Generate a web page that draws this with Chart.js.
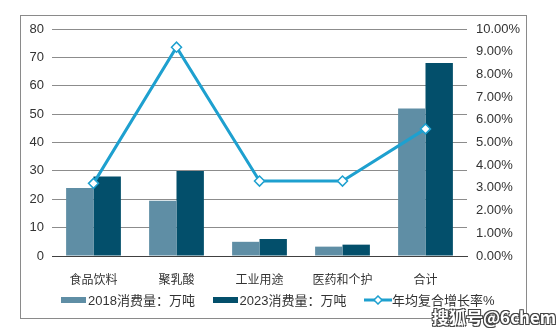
<!DOCTYPE html>
<html>
<head>
<meta charset="utf-8">
<script src="https://cdn.jsdelivr.net/npm/chart.js@4"></script>
<style>
    body { margin: 0; background: #fff; }
    #wrap { position: relative; width: 558px; height: 330px; }
    #frame { position: absolute; left: 20px; top: 15px; width: 505px; height: 302px; border: 1px solid #8a8a8a; }
    #legend { position: absolute; top: 290px; left: 61px; font: 13px "Liberation Sans", "Noto Sans CJK SC", sans-serif; color: #333; white-space: nowrap; }
    #legend span { display: inline-block; vertical-align: middle; }
    .sw { width: 25px; height: 6px; margin-right: 2px; }
    .item { margin-right: 14px; }
    #mark { position: absolute; left: 432px; top: 304px; font: bold 17px "Noto Sans CJK SC", sans-serif; color: #fff;
        text-shadow: -1px -1px 0 #444, 1px -1px 0 #444, -1px 1px 0 #444, 1px 1px 0 #444; }
</style>
</head>
<body>
<div id="wrap">
    <div id="frame"></div>
    <canvas id="chart" width="558" height="330"></canvas>
    <div id="legend">
        <span class="item"><span class="sw" style="background:#5f8ea5"></span><span>2018消费量：万吨</span></span>
        <span class="item"><span class="sw" style="background:#034f6b"></span><span>2023消费量：万吨</span></span>
        <span class="item"><svg width="28" height="10" style="vertical-align:middle"><line x1="0" y1="5" x2="28" y2="5" stroke="#1ea0cf" stroke-width="3"/><polygon points="14,1 18,5 14,9 10,5" fill="#fff" stroke="#1ea0cf" stroke-width="1.5"/></svg><span>年均复合增长率%</span></span>
    </div>
    <div id="mark">搜狐号@6chem</div>
</div>
<script>
const categories = ['食品饮料', '聚乳酸', '工业用途', '医药和个护', '合计'];
const use2018 = [24, 19.5, 5, 3.3, 52];
const use2023 = [28, 30, 6, 4, 68];
const cagr = [3.2, 9.2, 3.3, 3.3, 5.6];

const font = {family: '"Liberation Sans", "Noto Sans CJK SC", sans-serif', size: 12};

new Chart(document.querySelector('#chart'), {
    data: {
        labels: categories,
        datasets: [
            {
                type: 'line',
                label: '年均复合增长率%',
                data: cagr,
                yAxisID: 'y2',
                borderColor: '#1ea0cf',
                borderWidth: 3,
                pointStyle: 'rectRot',
                pointRadius: 5,
                pointBackgroundColor: '#fff',
                pointBorderColor: '#1ea0cf',
                pointBorderWidth: 1.5,
                order: 0
            },
            {
                type: 'bar',
                label: '2018消费量：万吨',
                data: use2018,
                yAxisID: 'y',
                backgroundColor: '#5f8ea5',
                order: 1
            },
            {
                type: 'bar',
                label: '2023消费量：万吨',
                data: use2023,
                yAxisID: 'y',
                backgroundColor: '#034f6b',
                order: 1
            }
        ]
    },
    options: {
        responsive: false,
        animation: false,
        datasets: {bar: {categoryPercentage: 0.66, barPercentage: 1}},
        layout: {padding: {top: 29, left: 0, right: 0, bottom: 0}},
        plugins: {legend: {display: false}, tooltip: {enabled: false}},
        scales: {
            x: {
                grid: {display: false},
                border: {color: '#404040'},
                ticks: {color: '#333', font: font, padding: 9},
                afterFit: (s) => { s.height = 74; }
            },
            y: {
                position: 'left',
                min: 0, max: 80,
                ticks: {stepSize: 10, color: '#333', font: {...font, size: 13}, padding: 8},
                grid: {color: (c) => c.tick.value === 0 ? '#404040' : '#8c8c8c', drawTicks: false},
                border: {display: false},
                afterFit: (s) => { s.width = 52; }
            },
            y2: {
                position: 'right',
                min: 0, max: 10,
                ticks: {stepSize: 1, color: '#333', font: {...font, size: 13}, padding: 9,
                    callback: (v) => v.toFixed(2) + '%'},
                grid: {drawOnChartArea: false, drawTicks: false},
                border: {display: false},
                afterFit: (s) => { s.width = 91; }
            }
        }
    }
});
</script>
</body>
</html>
